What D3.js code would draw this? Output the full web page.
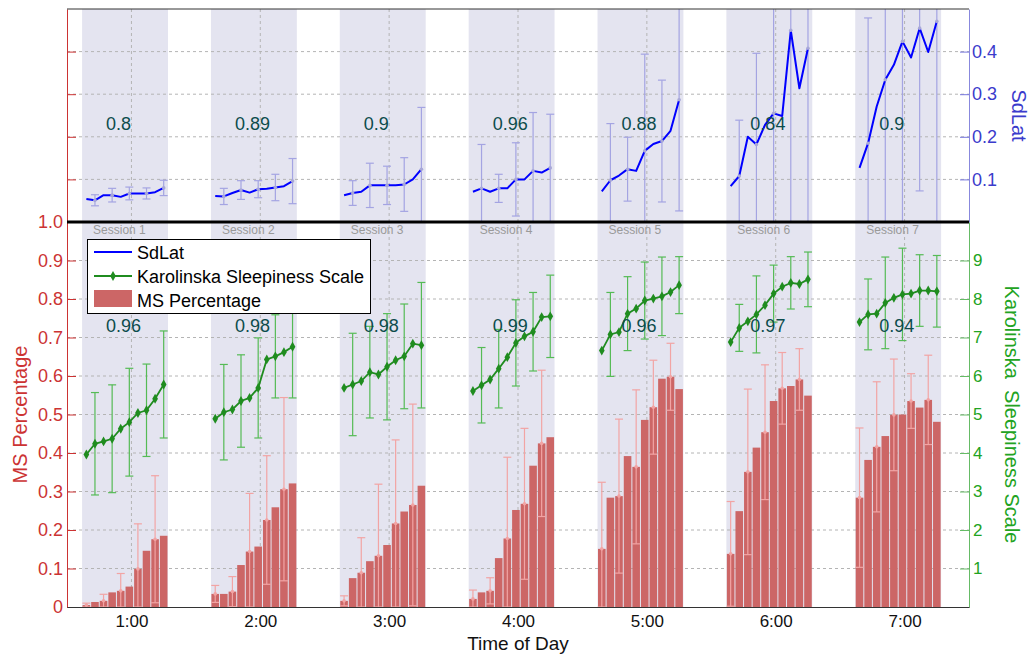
<!DOCTYPE html>
<html><head><meta charset="utf-8">
<script src="https://cdn.jsdelivr.net/npm/d3@7"></script>
<style>
body{margin:0;background:#fff}
text{font-family:"Liberation Sans",Arial,Helvetica,sans-serif}
</style>
</head><body>
<svg id="chart" width="1030" height="655"></svg>
<script>
// ---------------- DATA ----------------
const hourTicks = [1, 2, 3, 4, 5, 6, 7];
const hourLabels = ["1:00", "2:00", "3:00", "4:00", "5:00", "6:00", "7:00"];
const sessionNames = ["Session 1", "Session 2", "Session 3", "Session 4", "Session 5", "Session 6", "Session 7"];
// session start time (hours), each session lasts 40 min split into 10 bins of 4 min
const sessionStart = [0.617, 1.617, 2.617, 3.617, 4.617, 5.617, 6.617];
const binMinutes = 4;
const binsPerSession = 10;

const corrSdLat = ["0.8", "0.89", "0.9", "0.96", "0.88", "0.84", "0.9"];
const corrKss = ["0.96", "0.98", "0.98", "0.99", "0.96", "0.97", "0.94"];

// SdLat (top panel)
const sdlat = [
  [0.054, 0.051, 0.063, 0.063, 0.059, 0.067, 0.067, 0.067, 0.070, 0.080],
  [0.061, 0.060, 0.068, 0.075, 0.069, 0.077, 0.078, 0.081, 0.084, 0.096],
  [0.063, 0.068, 0.071, 0.086, 0.086, 0.086, 0.086, 0.088, 0.100, 0.124],
  [0.071, 0.079, 0.071, 0.079, 0.079, 0.100, 0.100, 0.120, 0.116, 0.127],
  [0.072, 0.098, 0.109, 0.124, 0.120, 0.167, 0.183, 0.190, 0.214, 0.287],
  [0.084, 0.108, 0.200, 0.182, 0.228, 0.255, 0.249, 0.450, 0.314, 0.408],
  [0.127, 0.185, 0.271, 0.334, 0.369, 0.424, 0.386, 0.455, 0.399, 0.471]
];
const sdlatErrIdx = [1, 3, 5, 7, 9];
const sdlatErr = [
  [0.013, 0.016, 0.015, 0.013, 0.018],
  [0.019, 0.022, 0.020, 0.031, 0.053],
  [0.029, 0.052, 0.045, 0.063, 0.145],
  [0.103, 0.033, 0.086, 0.137, 0.126],
  [0.133, 0.075, 0.227, 0.143, 0.261],
  [0.131, 0.214, 0.300, 0.500, 0.450],
  [0.294, 0.400, 0.500, 0.382, 0.500]
];

// Karolinska Sleepiness Scale (bottom panel, right axis)
const kss = [
  [3.96, 4.24, 4.30, 4.37, 4.63, 4.80, 5.04, 5.11, 5.41, 5.78],
  [4.89, 5.06, 5.13, 5.35, 5.43, 5.69, 6.43, 6.51, 6.62, 6.76],
  [5.69, 5.78, 5.87, 6.10, 6.04, 6.24, 6.41, 6.51, 6.84, 6.80],
  [5.61, 5.76, 5.91, 6.19, 6.49, 6.86, 7.03, 7.15, 7.53, 7.55],
  [6.66, 7.08, 7.14, 7.62, 7.75, 7.96, 8.01, 8.07, 8.18, 8.36],
  [6.88, 7.25, 7.42, 7.60, 7.84, 8.14, 8.32, 8.42, 8.39, 8.51],
  [7.40, 7.60, 7.62, 7.90, 8.03, 8.12, 8.14, 8.22, 8.22, 8.20]
];
const kssErrIdx = [1, 3, 5, 7, 9];
const kssErr = [
  [1.33, 1.40, 1.40, 1.20, 1.39],
  [1.24, 1.20, 1.30, 1.08, 1.33],
  [1.33, 1.19, 1.38, 1.36, 1.63],
  [0.98, 1.02, 1.12, 1.02, 1.07],
  [1.09, 0.96, 1.00, 1.02, 0.74],
  [0.61, 1.00, 0.74, 0.68, 0.71],
  [0.92, 1.19, 1.20, 0.93, 0.93]
];

// MS Percentage (bottom panel, left axis)
const msPct = [
  [0.005, 0.013, 0.016, 0.038, 0.042, 0.053, 0.099, 0.146, 0.176, 0.185],
  [0.034, 0.034, 0.040, 0.109, 0.144, 0.157, 0.226, 0.259, 0.306, 0.321],
  [0.016, 0.075, 0.089, 0.119, 0.133, 0.161, 0.217, 0.248, 0.265, 0.315],
  [0.021, 0.038, 0.042, 0.127, 0.178, 0.252, 0.268, 0.367, 0.425, 0.441],
  [0.151, 0.284, 0.288, 0.392, 0.364, 0.486, 0.519, 0.593, 0.598, 0.566],
  [0.138, 0.249, 0.351, 0.414, 0.454, 0.535, 0.568, 0.574, 0.591, 0.549],
  [0.284, 0.382, 0.416, 0.444, 0.499, 0.500, 0.535, 0.518, 0.538, 0.481]
];
const msErrIdx = [0, 2, 4, 6, 8];
const msErr = [
  [0.005, 0.017, 0.045, 0.117, 0.165],
  [0.022, 0.039, 0.151, 0.167, 0.238],
  [0.013, 0.091, 0.186, 0.217, 0.262],
  [0.023, 0.034, 0.211, 0.196, 0.190],
  [0.173, 0.200, 0.200, 0.122, 0.087],
  [0.136, 0.215, 0.175, 0.093, 0.080],
  [0.181, 0.169, 0.145, 0.071, 0.116]
];

const legendLabels = ["SdLat", "Karolinska Sleepiness Scale", "MS Percentage"];

// ---------------- LAYOUT / STYLE ----------------
const L = 67, R = 969, T = 9, MID = 222, B = 607;
const C = {
  band: "#e4e4f0", grid: "#b4b4b4", red: "#cc3333", bar: "#cc6666", barErr: "#f2a4a4",
  green: "#1f8c1f", greenErr: "#55bb55", greenAxis: "#22a322", blue: "#0000ff", blueErr: "#a4a4e2",
  blueAxis: "#3b3bcc", corr: "#0c4c4c", session: "#9a9a9a"
};

const svg = d3.select("#chart");
const x = d3.scaleLinear().domain([0.5, 7.5]).range([L, R]);
const yTop = d3.scaleLinear().domain([0, 0.5]).range([MID, T]);
const yMs = d3.scaleLinear().domain([0, 1]).range([B, MID]);
const yKss = d3.scaleLinear().domain([0, 10]).range([B, MID]);
const binH = binMinutes / 60;
const binCenter = (s, i) => sessionStart[s] + (i + 0.5) * binH;

const defs = svg.append("defs");
defs.append("clipPath").attr("id", "clipTop").append("rect").attr("x", L).attr("y", T).attr("width", R - L).attr("height", MID - T);
defs.append("clipPath").attr("id", "clipBot").append("rect").attr("x", L).attr("y", MID).attr("width", R - L).attr("height", B - MID);

// ---------- Backgrounds: session bands ----------
[[T, MID], [MID, B]].forEach(([y0, y1]) => {
  svg.append("g").selectAll("rect").data(sessionStart).join("rect")
    .attr("x", d => x(d)).attr("width", d => x(d + binsPerSession * binH) - x(d))
    .attr("y", y0).attr("height", y1 - y0).attr("fill", C.band);
});

// ---------- Grid ----------
const grid = svg.append("g").attr("stroke", C.grid).attr("stroke-dasharray", "3,3").attr("stroke-width", 1);
hourTicks.forEach(h => grid.append("line").attr("x1", x(h)).attr("x2", x(h)).attr("y1", T).attr("y2", B));
[0.1, 0.2, 0.3, 0.4].forEach(v => grid.append("line").attr("x1", L).attr("x2", R).attr("y1", yTop(v)).attr("y2", yTop(v)));
d3.range(1, 10).map(v => v / 10).forEach(v => grid.append("line").attr("x1", L).attr("x2", R).attr("y1", yMs(v)).attr("y2", yMs(v)));

// ---------- error bar helper ----------
function errorBars(g, pts, color, cap) {
  pts.forEach(p => {
    g.append("line").attr("x1", p.x).attr("x2", p.x).attr("y1", p.lo).attr("y2", p.hi).attr("stroke", color).attr("stroke-width", 1.2);
    g.append("line").attr("x1", p.x - cap).attr("x2", p.x + cap).attr("y1", p.lo).attr("y2", p.lo).attr("stroke", color).attr("stroke-width", 1.2);
    g.append("line").attr("x1", p.x - cap).attr("x2", p.x + cap).attr("y1", p.hi).attr("y2", p.hi).attr("stroke", color).attr("stroke-width", 1.2);
  });
}

// ---------- TOP PANEL: SdLat ----------
const gTop = svg.append("g").attr("clip-path", "url(#clipTop)");
sdlat.forEach((ser, s) => {
  const pts = sdlatErrIdx.map((i, k) => ({
    x: x(binCenter(s, i)), lo: yTop(ser[i] - sdlatErr[s][k]), hi: yTop(ser[i] + sdlatErr[s][k])
  }));
  errorBars(gTop, pts, C.blueErr, 4);
});
const lineTop = d3.line().x((d, i) => x(binCenter(d.s, i))).y(d => yTop(d.v));
sdlat.forEach((ser, s) => {
  gTop.append("path").datum(ser.map(v => ({ v, s }))).attr("d", lineTop)
    .attr("fill", "none").attr("stroke", C.blue).attr("stroke-width", 2).attr("stroke-linejoin", "round");
  gTop.append("g").selectAll("circle").data(sdlatErrIdx).join("circle")
    .attr("cx", i => x(binCenter(s, i))).attr("cy", i => yTop(ser[i])).attr("r", 1.8).attr("fill", "#a8a8d8");
});
svg.append("g").selectAll("text").data(corrSdLat).join("text")
  .attr("x", (d, s) => x(sessionStart[s]) + 24).attr("y", 130)
  .attr("font-size", 18).attr("fill", C.corr).text(d => d);

// ---------- BOTTOM PANEL ----------
const gBot = svg.append("g").attr("clip-path", "url(#clipBot)");
// bars
msPct.forEach((ser, s) => {
  gBot.append("g").selectAll("rect").data(ser).join("rect")
    .attr("x", (d, i) => x(sessionStart[s] + i * binH) + 0.5)
    .attr("width", (d, i) => x(sessionStart[s] + (i + 1) * binH) - x(sessionStart[s] + i * binH) - 1)
    .attr("y", d => yMs(d)).attr("height", d => yMs(0) - yMs(d))
    .attr("fill", C.bar);
});
// bar error bars
msPct.forEach((ser, s) => {
  const pts = msErrIdx.map((i, k) => ({
    x: x(binCenter(s, i)), lo: yMs(Math.max(0, ser[i] - msErr[s][k])), hi: yMs(ser[i] + msErr[s][k])
  }));
  errorBars(gBot, pts, C.barErr, 4);
  gBot.append("g").selectAll("circle").data(msErrIdx).join("circle")
    .attr("cx", i => x(binCenter(s, i))).attr("cy", i => yMs(ser[i])).attr("r", 1.8).attr("fill", C.barErr);
});
// KSS error bars
kss.forEach((ser, s) => {
  const pts = kssErrIdx.map((i, k) => ({
    x: x(binCenter(s, i)), lo: yKss(ser[i] - kssErr[s][k]), hi: yKss(ser[i] + kssErr[s][k])
  }));
  errorBars(gBot, pts, C.greenErr, 4);
});
// KSS lines with diamond markers
const lineK = d3.line().x((d, i) => x(binCenter(d.s, i))).y(d => yKss(d.v));
const diamond = d3.symbol().type(d3.symbolDiamond).size(28);
kss.forEach((ser, s) => {
  gBot.append("path").datum(ser.map(v => ({ v, s }))).attr("d", lineK)
    .attr("fill", "none").attr("stroke", C.green).attr("stroke-width", 1.8);
  gBot.append("g").selectAll("path").data(ser).join("path")
    .attr("transform", (d, i) => `translate(${x(binCenter(s, i))},${yKss(d)})`)
    .attr("d", diamond).attr("fill", C.green);
});
svg.append("g").selectAll("text").data(corrKss).join("text")
  .attr("x", (d, s) => x(sessionStart[s]) + 24).attr("y", 332)
  .attr("font-size", 18).attr("fill", C.corr).text(d => d);

// session labels
svg.append("g").selectAll("text").data(sessionNames).join("text")
  .attr("x", (d, s) => x(sessionStart[s]) + 11).attr("y", 234)
  .attr("font-size", 12).attr("fill", C.session).text(d => d);

// ---------- AXES ----------
function styleAxis(g, color, fs) {
  g.select(".domain").attr("stroke", color);
  g.selectAll(".tick line").attr("stroke", color);
  g.selectAll(".tick text").attr("fill", color).attr("font-size", fs).attr("font-family", '"Liberation Sans",Arial,sans-serif');
}
// left red (bottom)
const axMs = svg.append("g").attr("transform", `translate(${L},0)`)
  .call(d3.axisLeft(yMs).tickValues(d3.range(0, 11).map(v => v / 10))
    .tickFormat(d => d === 0 ? "0" : d3.format(".1f")(d)).tickSizeInner(-9).tickSizeOuter(0).tickPadding(4));
styleAxis(axMs, C.red, 18);
// left red (top, no labels)
const axTopL = svg.append("g").attr("transform", `translate(${L},0)`)
  .call(d3.axisLeft(yTop).tickValues([0.1, 0.2, 0.3, 0.4]).tickFormat("").tickSizeInner(-9).tickSizeOuter(0));
styleAxis(axTopL, C.red, 18);
// right blue (top)
const axTopR = svg.append("g").attr("transform", `translate(${R},0)`)
  .call(d3.axisRight(yTop).tickValues([0.1, 0.2, 0.3, 0.4]).tickFormat(d3.format(".1f")).tickSizeInner(-9).tickSizeOuter(0).tickPadding(3));
styleAxis(axTopR, "#7777dd", 18);
axTopR.selectAll(".tick text").attr("fill", C.blueAxis);
axTopR.select(".domain").attr("stroke", "#8888dd");
// right green (bottom)
const axK = svg.append("g").attr("transform", `translate(${R},0)`)
  .call(d3.axisRight(yKss).tickValues(d3.range(1, 10)).tickFormat(d3.format("d")).tickSizeInner(-9).tickSizeOuter(0).tickPadding(4));
styleAxis(axK, "#66bb66", 17);
axK.selectAll(".tick text").attr("fill", C.greenAxis);
// bottom x axis
const axX = svg.append("g").attr("transform", `translate(0,${B})`)
  .call(d3.axisBottom(x).tickValues(hourTicks).tickFormat((d, i) => hourLabels[i]).tickSizeInner(0).tickSizeOuter(0).tickPadding(8));
styleAxis(axX, "#333", 17);
axX.selectAll(".tick text").attr("fill", "#111");

// top border & separator
svg.append("line").attr("x1", L).attr("x2", R).attr("y1", T).attr("y2", T).attr("stroke", "#333").attr("stroke-width", 1);
svg.append("line").attr("x1", L).attr("x2", R).attr("y1", MID).attr("y2", MID).attr("stroke", "#000").attr("stroke-width", 3);

// ---------- TITLES ----------
svg.append("text").attr("transform", `translate(${(L + R) / 2},650)`).attr("text-anchor", "middle")
  .attr("font-size", 19).attr("fill", "#111").text("Time of Day");
svg.append("text").attr("transform", `translate(27,${(MID + B) / 2}) rotate(-90)`).attr("text-anchor", "middle")
  .attr("font-size", 20).attr("fill", C.red).text("MS Percentage");
svg.append("text").attr("transform", `translate(1005,${(MID + B) / 2}) rotate(90)`).attr("text-anchor", "middle")
  .attr("font-size", 20).attr("fill", C.greenAxis).style("white-space", "pre").text("Karolinska  Sleepiness Scale");
svg.append("text").attr("transform", `translate(1012,${(T + MID) / 2}) rotate(90)`).attr("text-anchor", "middle")
  .attr("font-size", 20).attr("fill", C.blueAxis).text("SdLat");

// ---------- LEGEND ----------
const lg = svg.append("g");
lg.append("rect").attr("x", 87.5).attr("y", 239.5).attr("width", 283).attr("height", 74)
  .attr("fill", "#fff").attr("stroke", "#000").attr("stroke-width", 1);
lg.append("line").attr("x1", 94).attr("x2", 132).attr("y1", 252).attr("y2", 252).attr("stroke", C.blue).attr("stroke-width", 2);
lg.append("line").attr("x1", 94).attr("x2", 132).attr("y1", 276).attr("y2", 276).attr("stroke", C.green).attr("stroke-width", 1.8);
lg.append("path").attr("transform", "translate(113,276)").attr("d", diamond).attr("fill", C.green);
lg.append("rect").attr("x", 94).attr("y", 290).attr("width", 38).attr("height", 17).attr("fill", C.bar);
lg.selectAll("text.l").data(legendLabels).join("text").attr("class", "l")
  .attr("x", 137).attr("y", (d, i) => [259, 283, 307][i]).attr("font-size", 18).attr("fill", "#000").text(d => d);
</script>
</body></html>
